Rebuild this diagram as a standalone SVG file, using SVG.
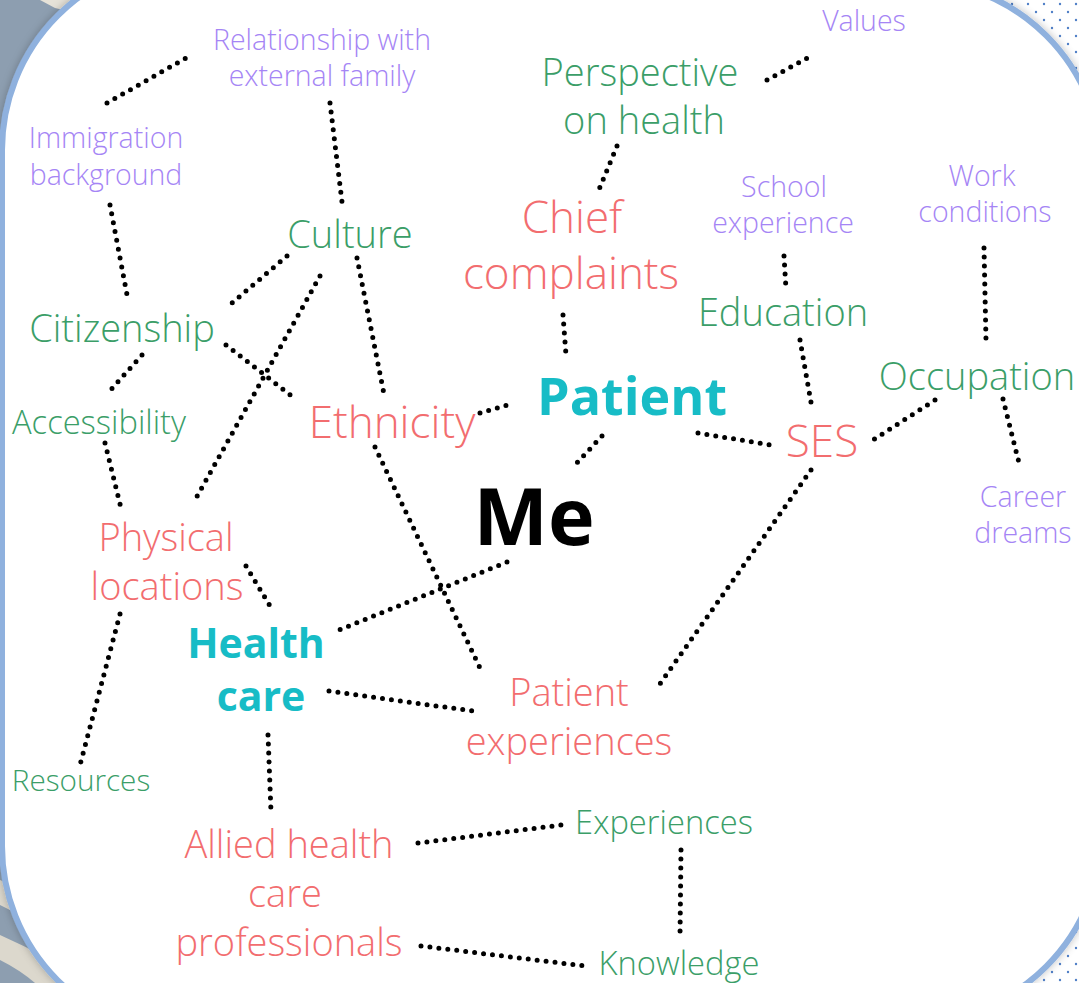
<svg xmlns="http://www.w3.org/2000/svg" width="1079" height="983" viewBox="0 0 1079 983">
<defs>
<pattern id="dots" width="16" height="16" patternUnits="userSpaceOnUse">
<circle cx="4" cy="4" r="1.2" fill="#4f7fc7"/>
<circle cx="12" cy="12" r="1.2" fill="#4f7fc7"/>
</pattern>
<filter id="shadow" x="-5%" y="-5%" width="110%" height="110%">
<feGaussianBlur in="SourceAlpha" stdDeviation="4"/>
<feOffset dx="0" dy="0" result="b"/>
<feFlood flood-color="#000" flood-opacity="0.25"/>
<feComposite in2="b" operator="in"/>
<feMerge><feMergeNode/><feMergeNode in="SourceGraphic"/></feMerge>
</filter>
</defs>
<style>
text{font-family:"Open Sans","Noto Sans","Liberation Sans",sans-serif;font-weight:300;text-anchor:middle}
.p{fill:#a585f5;font-size:28.5px}
.g{fill:#3b9e68;font-size:38px}
.gs{fill:#3b9e68;font-size:32.7px}
.gr{fill:#3b9e68;font-size:29.7px}
.r{fill:#f26d6f;font-size:44px}
.rs{fill:#f26d6f;font-size:38px}
.t{fill:#17bcc6;font-weight:700}
.tp{font-size:52px}
.th{font-size:41px}
.me{fill:#000;font-weight:700;font-size:79px}
.c line{stroke:#000;stroke-width:5;stroke-linecap:round;stroke-dasharray:0 9;fill:none}
</style>
<g id="background">
<rect x="0" y="0" width="1079" height="983" fill="#ffffff"/>
<rect x="0" y="0" width="1079" height="983" fill="url(#dots)"/>
<rect x="0" y="0" width="260" height="300" fill="#8d9eb0"/>
<path d="M40,0 L95,0 L80,14 L55,8 Z" fill="#e6e2d8"/>
<rect x="0" y="700" width="260" height="283" fill="#dcd8cd"/>
<path d="M0,850 Q40,870 80,900 L80,920 Q40,895 0,880 Z" fill="#8d9eb0"/>
<path d="M0,905 Q50,930 110,960 L110,983 L90,983 Q45,955 0,935 Z" fill="#8d9eb0"/>
<path d="M0,960 Q20,970 35,983 L0,983 Z" fill="#8d9eb0"/>
<path d="M2,150 A190 190 0 0 1 192,-40 L912,-20 A190 190 0 0 1 1102,170 L1102,832 A190 190 0 0 1 912,1022 L192,1036 A190 190 0 0 1 2,846 Z" fill="#ffffff" stroke="#8fb1de" stroke-width="6" filter="url(#shadow)"/>
</g>
<g id="connectors" class="c">
<line x1="107" y1="103" x2="186" y2="58"/>
<line x1="330" y1="103" x2="342" y2="202"/>
<line x1="110" y1="205" x2="128" y2="300"/>
<line x1="287" y1="256" x2="232" y2="303"/>
<line x1="357" y1="258" x2="384" y2="394"/>
<line x1="320" y1="276" x2="195" y2="500"/>
<line x1="226" y1="345" x2="293" y2="397"/>
<line x1="142" y1="355" x2="108" y2="393"/>
<line x1="105" y1="443" x2="121" y2="508"/>
<line x1="120" y1="614" x2="80" y2="765"/>
<line x1="246" y1="566" x2="270" y2="606"/>
<line x1="480" y1="413" x2="511" y2="404"/>
<line x1="375" y1="447" x2="480" y2="668"/>
<line x1="617" y1="146" x2="598" y2="192"/>
<line x1="767" y1="80" x2="813" y2="55"/>
<line x1="563" y1="315" x2="566" y2="355"/>
<line x1="602" y1="436" x2="575" y2="465"/>
<line x1="698" y1="433" x2="771" y2="445"/>
<line x1="784" y1="256" x2="786" y2="289"/>
<line x1="800" y1="340" x2="812" y2="408"/>
<line x1="984" y1="248" x2="986" y2="340"/>
<line x1="935" y1="400" x2="873" y2="440"/>
<line x1="1003" y1="399" x2="1020" y2="467"/>
<line x1="811" y1="470" x2="657" y2="688"/>
<line x1="507" y1="562" x2="339" y2="630"/>
<line x1="329" y1="691" x2="480" y2="712"/>
<line x1="268" y1="735" x2="271" y2="812"/>
<line x1="418" y1="843" x2="561" y2="825"/>
<line x1="421" y1="946" x2="585" y2="966"/>
<line x1="681" y1="850" x2="680" y2="936"/>
</g>
<g id="node-values"><text class="p" x="864" y="31">Values</text></g>
<g id="node-relationship"><text class="p" x="322" y="50">Relationship with</text><text class="p" x="322" y="86">external family</text></g>
<g id="node-immigration"><text class="p" x="106" y="148">Immigration</text><text class="p" x="106" y="185">background</text></g>
<g id="node-perspective"><text class="g" x="640" y="86">Perspective</text><text class="g" x="644" y="134">on health</text></g>
<g id="node-school"><text class="p" x="784" y="197">School</text><text class="p" x="783" y="233">experience</text></g>
<g id="node-work"><text class="p" x="982" y="186">Work</text><text class="p" x="985" y="222">conditions</text></g>
<g id="node-chief"><text class="r" x="572" y="233">Chief</text><text class="r" x="571" y="289">complaints</text></g>
<g id="node-culture"><text class="g" x="350" y="248">Culture</text></g>
<g id="node-education"><text class="g" x="783" y="326">Education</text></g>
<g id="node-citizenship"><text class="g" x="122" y="342">Citizenship</text></g>
<g id="node-occupation"><text class="g" x="977" y="390">Occupation</text></g>
<g id="node-patient"><text class="t tp" x="632" y="415">Patient</text></g>
<g id="node-accessibility"><text class="gs" x="99" y="434">Accessibility</text></g>
<g id="node-ethnicity"><text class="r" x="392" y="438">Ethnicity</text></g>
<g id="node-ses"><text class="r" x="822" y="457">SES</text></g>
<g id="node-career"><text class="p" x="1023" y="507">Career</text><text class="p" x="1023" y="543">dreams</text></g>
<g id="node-me"><text class="me" x="534" y="545">Me</text></g>
<g id="node-physical"><text class="rs" x="166" y="551">Physical</text><text class="rs" x="167" y="600">locations</text></g>
<g id="node-healthcare"><text class="t th" x="256" y="658">Health</text><text class="t th" x="261" y="711">care</text></g>
<g id="node-patient-exp"><text class="rs" x="569" y="706">Patient</text><text class="rs" x="569" y="755">experiences</text></g>
<g id="node-resources"><text class="gr" x="81" y="791">Resources</text></g>
<g id="node-experiences"><text class="gs" x="664" y="834">Experiences</text></g>
<g id="node-allied"><text class="rs" x="289" y="858">Allied health</text><text class="rs" x="285" y="907">care</text><text class="rs" x="289" y="956">professionals</text></g>
<g id="node-knowledge"><text class="gs" x="679" y="975">Knowledge</text></g>
</svg>
